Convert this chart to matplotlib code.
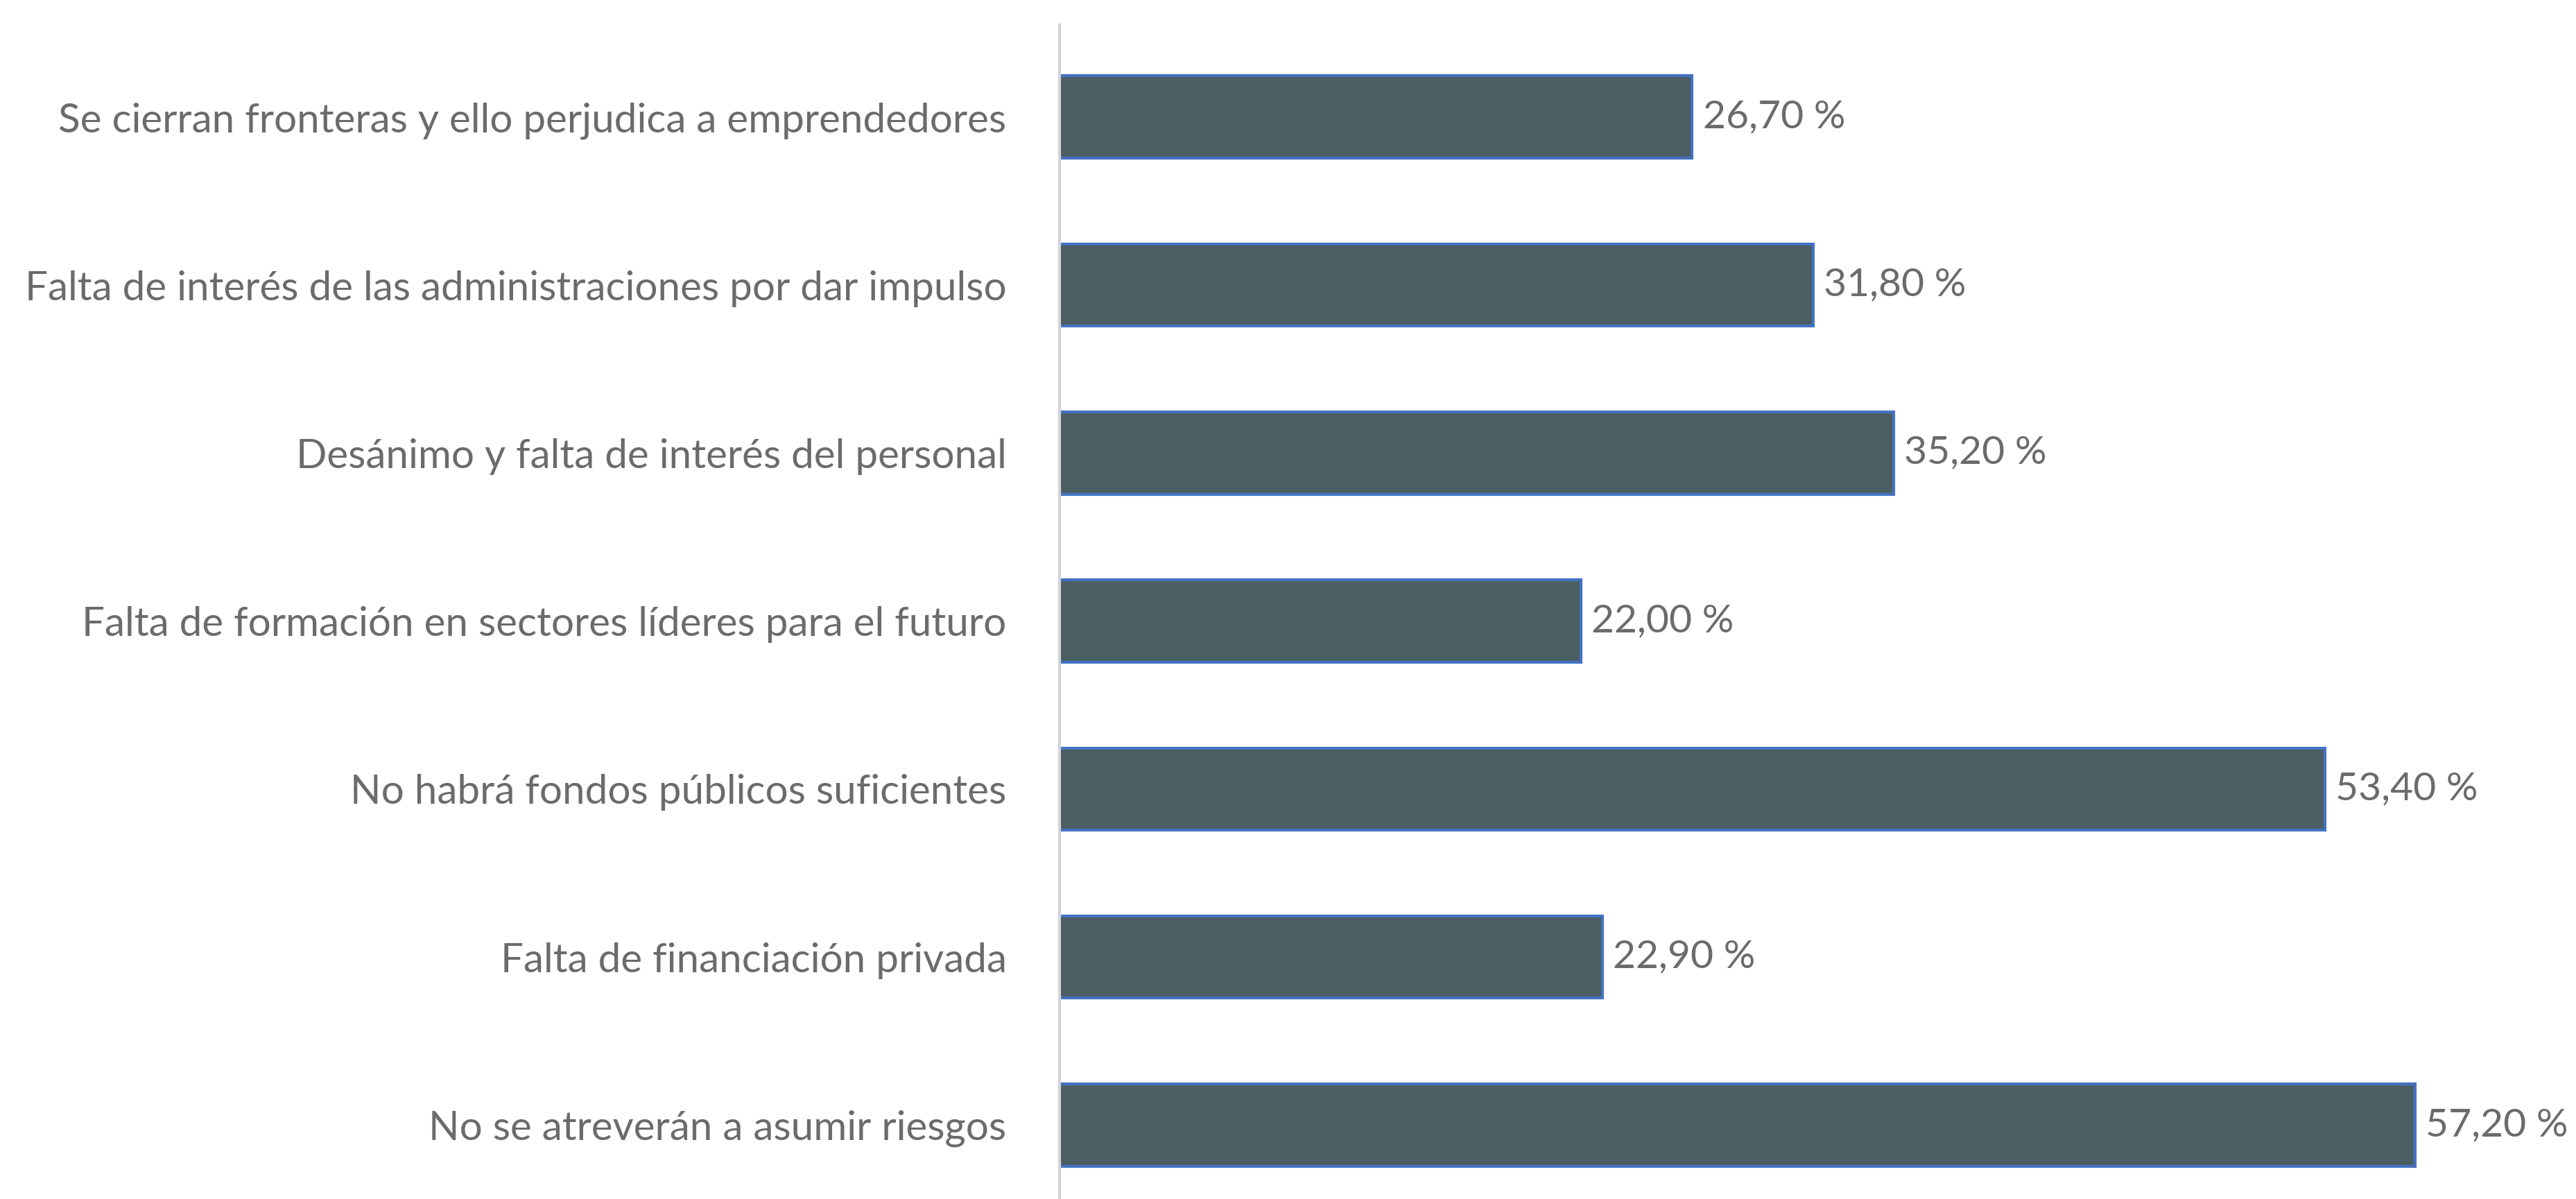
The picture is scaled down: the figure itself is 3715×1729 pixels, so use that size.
import matplotlib
matplotlib.use("Agg")
import matplotlib.pyplot as plt

categories = [
    "Se cierran fronteras y ello perjudica a emprendedores",
    "Falta de interés de las administraciones por dar impulso",
    "Desánimo y falta de interés del personal",
    "Falta de formación en sectores líderes para el futuro",
    "No habrá fondos públicos suficientes",
    "Falta de financiación privada",
    "No se atreverán a asumir riesgos",
]
values = [26.70, 31.80, 35.20, 22.00, 53.40, 22.90, 57.20]
value_labels = ["26,70 %", "31,80 %", "35,20 %", "22,00 %", "53,40 %", "22,90 %", "57,20 %"]

plt.rcParams['font.family'] = ['Lato', 'DejaVu Sans']
text_color = "#6b6b6b"

fig = plt.figure(figsize=(37.15, 17.29), dpi=100)
ax = fig.add_axes([0.4113, 0.0, 0.5887, 0.979])

y = list(range(len(categories)))
ax.barh(y, values, height=0.49, color="#4B5E62", edgecolor="#4472C4", linewidth=3)

for yi, v, lab in zip(y, values, value_labels):
    ax.text(v + 0.45, yi, lab, va="center", ha="left", fontsize=41, color=text_color)

ax.set_yticks(y)
ax.set_yticklabels(categories, fontsize=42, color=text_color)
ax.tick_params(axis="y", length=0, pad=55)
ax.set_xticks([])
ax.set_xlim(0, 64)
ax.set_ylim(6.44, -0.547)

for s in ["top", "right", "bottom"]:
    ax.spines[s].set_visible(False)
ax.spines["left"].set_color("#d4d4d4")
ax.spines["left"].set_linewidth(3)

fig.savefig("out.png", dpi=100, facecolor="white")
